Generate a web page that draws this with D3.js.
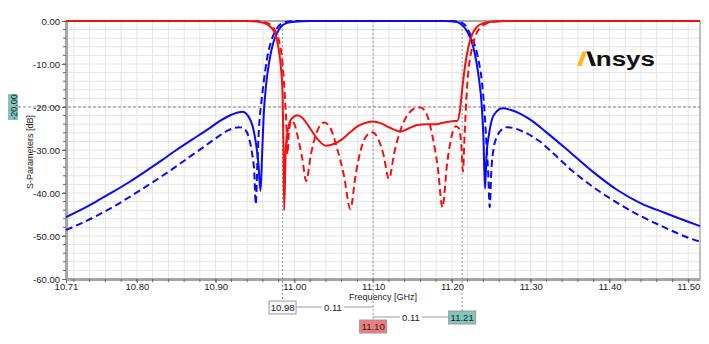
<!DOCTYPE html>
<html>
<head>
<meta charset="utf-8">
<script src="https://cdn.jsdelivr.net/npm/d3@7"></script>
<style>
  body { margin: 0; background: #fff; }
  svg { display: block; font-family: "Liberation Sans", Arial, sans-serif; }
</style>
</head>
<body>
<div id="chart"></div>
<script>
// Data: [frequency GHz, dB]
var s21Solid = [[10.71,-45.6],[10.73,-43.8],[10.75,-41.8],[10.77,-39.7],[10.79,-37.5],[10.81,-35.1],[10.83,-32.6],[10.85,-30.0],[10.87,-27.6],[10.89,-25.2],[10.905,-23.3],[10.92,-21.8],[10.934,-21.1],[10.942,-22.3],[10.947,-24.5],[10.951,-28.2],[10.954,-32.5],[10.957,-39.5],[10.959,-31],[10.961,-22],[10.964,-15],[10.968,-9.5],[10.973,-5.2],[10.978,-2.8],[10.983,-1.3],[10.99,-0.5],[11.00,-0.15],[11.02,0],[11.19,0],[11.205,-0.2],[11.212,-0.8],[11.218,-2],[11.224,-4.2],[11.229,-7.5],[11.234,-13],[11.238,-20],[11.240,-27],[11.242,-39],[11.244,-31],[11.247,-26.5],[11.251,-22.8],[11.257,-21],[11.264,-20.3],[11.275,-20.7],[11.287,-21.6],[11.30,-23.0],[11.32,-25.9],[11.35,-30.5],[11.38,-35.2],[11.41,-39.3],[11.44,-42.4],[11.47,-44.6],[11.50,-46.7],[11.515,-47.7]];
var s21Dashed = [[10.71,-48.6],[10.73,-47],[10.75,-45.2],[10.77,-43.2],[10.79,-41],[10.81,-38.7],[10.83,-36.3],[10.85,-33.8],[10.87,-31.2],[10.881,-29.8],[10.90,-27.3],[10.915,-25.5],[10.930,-24.7],[10.937,-25.2],[10.942,-27],[10.946,-30.5],[10.949,-35],[10.951,-42.6],[10.953,-33],[10.955,-25],[10.958,-19],[10.961,-14.3],[10.965,-9],[10.970,-5],[10.975,-2.6],[10.981,-1],[10.988,-0.3],[11.00,0],[11.20,0],[11.21,-0.3],[11.216,-0.8],[11.222,-2.6],[11.228,-5],[11.233,-8.5],[11.238,-14],[11.241,-20],[11.244,-29],[11.246,-35],[11.248,-43.3],[11.250,-35],[11.253,-29.5],[11.257,-27],[11.263,-25.3],[11.270,-24.7],[11.28,-25],[11.29,-25.7],[11.31,-27.8],[11.33,-31],[11.35,-34.4],[11.38,-38.7],[11.41,-42.3],[11.44,-45.4],[11.47,-48],[11.50,-50.4],[11.515,-51.3]];
var s11Solid = [[10.71,0],[10.94,0],[10.955,-0.2],[10.965,-0.7],[10.971,-1.6],[10.976,-3.2],[10.980,-6.5],[10.983,-11],[10.985,-17],[10.986,-28],[10.987,-44],[10.989,-30],[10.992,-25],[10.996,-22.8],[11.004,-21.9],[11.010,-22.5],[11.020,-25],[11.030,-27.6],[11.040,-29],[11.050,-28.6],[11.060,-27.6],[11.070,-26],[11.080,-24.5],[11.092,-23.6],[11.100,-23.4],[11.110,-23.8],[11.120,-24.7],[11.135,-25.7],[11.145,-25],[11.156,-24.2],[11.168,-24],[11.180,-24],[11.190,-23.6],[11.200,-23.3],[11.207,-23.2],[11.210,-21],[11.213,-16],[11.217,-10],[11.221,-6],[11.226,-3],[11.232,-1.3],[11.240,-0.5],[11.250,-0.15],[11.27,0],[11.515,0]];
var s11Dashed = [[10.71,0],[10.95,0],[10.962,-0.3],[10.970,-0.9],[10.976,-2.4],[10.981,-5],[10.985,-10],[10.988,-18],[10.990,-25],[10.991,-31],[10.993,-26],[10.996,-23.2],[11.000,-24],[11.005,-27.5],[11.010,-32],[11.015,-37.2],[11.021,-31],[11.028,-26],[11.038,-23.6],[11.046,-25],[11.054,-29.5],[11.063,-36],[11.071,-43.7],[11.078,-35.5],[11.085,-29.5],[11.092,-26.6],[11.099,-25.9],[11.106,-27.3],[11.113,-31],[11.120,-36.7],[11.127,-30.5],[11.135,-25.2],[11.145,-21.5],[11.152,-20.4],[11.160,-20.1],[11.168,-21.7],[11.175,-26.5],[11.182,-34],[11.188,-43.3],[11.194,-33],[11.200,-26.5],[11.205,-24.5],[11.209,-25],[11.212,-29],[11.214,-35],[11.216,-27],[11.219,-16],[11.222,-10],[11.226,-6],[11.231,-3],[11.237,-1.4],[11.245,-0.5],[11.255,-0.1],[11.27,0],[11.515,0]];

var xTickValues = [10.71, 10.80, 10.90, 11.00, 11.10, 11.20, 11.30, 11.40, 11.50];
var yTickValues = [0, -10, -20, -30, -40, -50, -60];
var markerFreqs = [10.985, 11.10, 11.213];
var markerLabels = ["10.98", "11.10", "11.21"];
var deltaLabels = ["0.11", "0.11"];
var refLevel = -20;
var refLabel = "-20.00";

var svgWidth = 709;
var svgHeight = 344;
var plot = { left: 66, right: 700, top: 21, bottom: 279 };

var svg = d3.select("#chart")
    .append("svg")
    .attr("width", svgWidth)
    .attr("height", svgHeight);

var x = d3.scaleLinear().domain([10.71, 11.515]).range([plot.left, plot.right]);
var y = d3.scaleLinear().domain([-60, 0]).range([plot.bottom, plot.top]);

// Grid (minor 0.02 GHz / 2 dB)
var xGrid = d3.range(10.72, 11.51, 0.02);
var yGrid = d3.range(-58, 0, 2);
svg.append("g").selectAll("line")
    .data(xGrid)
    .enter().append("line")
    .attr("x1", function (d) { return x(d); })
    .attr("x2", function (d) { return x(d); })
    .attr("y1", plot.top)
    .attr("y2", plot.bottom)
    .attr("stroke", "#e4e4e4")
    .attr("stroke-width", 1);
svg.append("g").selectAll("line")
    .data(yGrid)
    .enter().append("line")
    .attr("x1", plot.left)
    .attr("x2", plot.right)
    .attr("y1", function (d) { return y(d); })
    .attr("y2", function (d) { return y(d); })
    .attr("stroke", "#e4e4e4")
    .attr("stroke-width", 1);

// Frame top / right
svg.append("line")
    .attr("x1", plot.left).attr("x2", plot.right)
    .attr("y1", plot.top).attr("y2", plot.top)
    .attr("stroke", "#aaa").attr("stroke-width", 2);
svg.append("line")
    .attr("x1", plot.right).attr("x2", plot.right)
    .attr("y1", plot.top).attr("y2", plot.bottom)
    .attr("stroke", "#aaa").attr("stroke-width", 1.5);

// Reference line at -20 dB
svg.append("line")
    .attr("x1", 18).attr("x2", plot.right)
    .attr("y1", y(refLevel)).attr("y2", y(refLevel))
    .attr("stroke", "#888").attr("stroke-width", 1)
    .attr("stroke-dasharray", "3,2");

// Axes
var fmt = function (d) { return d.toFixed(2); };
var xAxis = svg.append("g")
    .attr("transform", "translate(0," + plot.bottom + ")")
    .call(d3.axisBottom(x).tickValues(xTickValues).tickFormat(fmt).tickSize(4).tickSizeOuter(0));
var yAxis = svg.append("g")
    .attr("transform", "translate(" + plot.left + ",0)")
    .call(d3.axisLeft(y).tickValues(yTickValues).tickFormat(fmt).tickSize(4).tickSizeOuter(0));

// Minor ticks
svg.append("g").selectAll("line")
    .data(xGrid)
    .enter().append("line")
    .attr("x1", function (d) { return x(d); })
    .attr("x2", function (d) { return x(d); })
    .attr("y1", plot.bottom)
    .attr("y2", plot.bottom + 3)
    .attr("stroke", "#666");
svg.append("g").selectAll("line")
    .data(yGrid)
    .enter().append("line")
    .attr("x1", plot.left - 3)
    .attr("x2", plot.left)
    .attr("y1", function (d) { return y(d); })
    .attr("y2", function (d) { return y(d); })
    .attr("stroke", "#666");

[xAxis, yAxis].forEach(function (a) {
    a.select(".domain").attr("stroke", "#a6a6a6").attr("stroke-width", 3);
    a.selectAll(".tick line").attr("stroke", "#666");
    a.selectAll(".tick text")
        .attr("fill", "#222")
        .style("font-size", "9.5px")
        .style("font-family", "'Liberation Sans', Arial, sans-serif");
});
xAxis.selectAll(".tick text").attr("dy", "0.6em").attr("y", 5);
yAxis.selectAll(".tick text").attr("x", -6);

// Axis titles
svg.append("text")
    .attr("x", 383)
    .attr("y", 300)
    .attr("text-anchor", "middle")
    .attr("fill", "#222")
    .style("font-size", "9px")
    .text("Frequency [GHz]");
svg.append("text")
    .attr("transform", "translate(33,152) rotate(-90)")
    .attr("text-anchor", "middle")
    .attr("fill", "#222")
    .style("font-size", "9px")
    .text("S-Parameters [dB]");

// Marker lines
var markerBottoms = [301, 320, 311];
svg.append("g").selectAll("line")
    .data(markerFreqs)
    .enter().append("line")
    .attr("x1", function (d) { return x(d); })
    .attr("x2", function (d) { return x(d); })
    .attr("y1", plot.top)
    .attr("y2", function (d, i) { return markerBottoms[i]; })
    .attr("stroke", "#999")
    .attr("stroke-width", 1)
    .attr("stroke-dasharray", "2,2");

// Curves
var line = d3.line()
    .x(function (d) { return x(d[0]); })
    .y(function (d) { return y(d[1]); })
    .curve(d3.curveMonotoneX);

var series = [
    { data: s21Dashed, color: "#0a0af5", dash: "7,4" },
    { data: s21Solid, color: "#0a0af5", dash: null },
    { data: s11Dashed, color: "#f51010", dash: "7,4" },
    { data: s11Solid, color: "#f51010", dash: null }
];
series.forEach(function (s) {
    svg.append("path")
        .datum(s.data)
        .attr("fill", "none")
        .attr("stroke", s.color)
        .attr("stroke-width", 2)
        .attr("stroke-dasharray", s.dash)
        .attr("d", line);
});

// Delta lines between markers
svg.append("line")
    .attr("x1", x(markerFreqs[0]) + 13).attr("x2", x(markerFreqs[1]))
    .attr("y1", 307).attr("y2", 307)
    .attr("stroke", "#999");
svg.append("line")
    .attr("x1", x(markerFreqs[1])).attr("x2", x(markerFreqs[2]) - 13)
    .attr("y1", 317).attr("y2", 317)
    .attr("stroke", "#999");
var deltaPos = [[333, 307], [411, 317]];
deltaLabels.forEach(function (t, i) {
    svg.append("rect")
        .attr("x", deltaPos[i][0] - 11).attr("y", deltaPos[i][1] - 6)
        .attr("width", 22).attr("height", 12)
        .attr("fill", "#fff");
    svg.append("text")
        .attr("x", deltaPos[i][0]).attr("y", deltaPos[i][1] + 3.5)
        .attr("text-anchor", "middle")
        .attr("fill", "#222")
        .style("font-size", "9.5px")
        .text(t);
});

// Marker boxes
var boxTops = [301, 320, 311];
var boxFills = ["#f6f6f6", "#f07b7b", "#80c6be"];
markerFreqs.forEach(function (f, i) {
    svg.append("rect")
        .attr("x", x(f) - 13.5).attr("y", boxTops[i])
        .attr("width", 27).attr("height", 13)
        .attr("fill", boxFills[i])
        .attr("stroke", "#999");
    svg.append("text")
        .attr("x", x(f)).attr("y", boxTops[i] + 10)
        .attr("text-anchor", "middle")
        .attr("fill", "#222")
        .style("font-size", "9.5px")
        .text(markerLabels[i]);
});

// Reference label on the y axis
svg.append("rect")
    .attr("x", 8).attr("y", y(refLevel) - 13)
    .attr("width", 10).attr("height", 26)
    .attr("fill", "#80c6be");
svg.append("text")
    .attr("transform", "translate(16.5," + y(refLevel) + ") rotate(-90)")
    .attr("text-anchor", "middle")
    .attr("fill", "#222")
    .style("font-size", "9px")
    .text(refLabel);

// Logo
var logo = svg.append("text")
    .attr("x", 577)
    .attr("y", 66)
    .attr("textLength", 78)
    .attr("lengthAdjust", "spacingAndGlyphs")
    .attr("fill", "#111")
    .style("font-size", "20px")
    .style("font-weight", "700");
logo.append("tspan").attr("fill", "none").text("A");
logo.append("tspan").text("nsys");
svg.append("polygon")
    .attr("points", "577,66 581.5,66 587,51.5 582.5,51.5")
    .attr("fill", "#ffb71b");
svg.append("polygon")
    .attr("points", "586.5,51.5 590.5,51.5 596,66 591.5,66")
    .attr("fill", "#111");
</script>
</body>
</html>
